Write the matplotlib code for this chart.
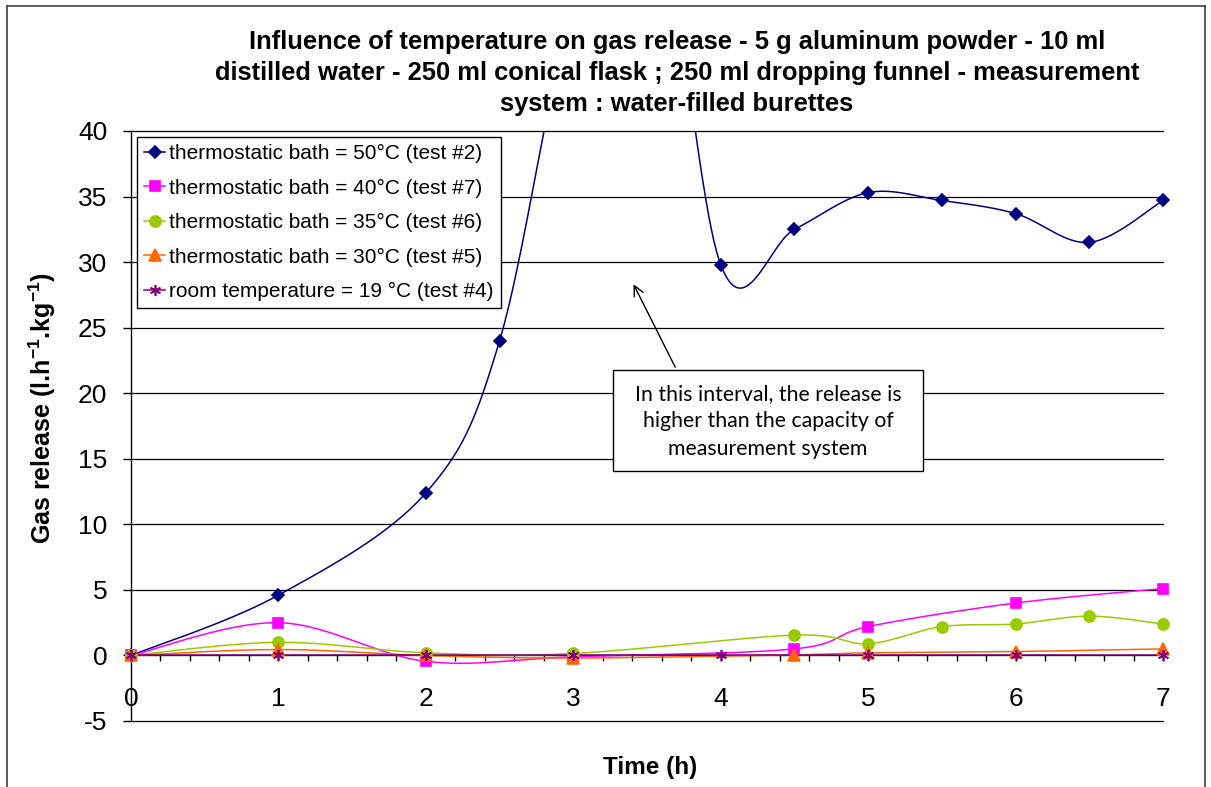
import numpy as np
import matplotlib
matplotlib.use('Agg')
import matplotlib.pyplot as plt
from matplotlib.lines import Line2D
from matplotlib.patches import Rectangle

plt.rcParams['font.family'] = ['Liberation Sans', 'DejaVu Sans']
plt.rcParams['mathtext.fontset'] = 'custom'
plt.rcParams['mathtext.bf'] = 'Liberation Sans:bold'
plt.rcParams['mathtext.rm'] = 'Liberation Sans'
plt.rcParams['axes.unicode_minus'] = False

# ---------- data ----------
x_50 = [0, 1, 2, 2.5, 3, 3.5, 4, 4.5, 5, 5.5, 6, 6.5, 7]
y_50 = [0, 4.6, 12.4, 24.0, 50, 62, 29.8, 32.5, 35.3, 34.7, 33.7, 31.5, 34.7]

x_40 = [0, 1, 2, 3, 4.5, 5, 6, 7]
y_40 = [0, 2.5, -0.45, -0.1, 0.5, 2.2, 4.0, 5.1]

x_35 = [0, 1, 2, 3, 4.5, 5, 5.5, 6, 6.5, 7]
y_35 = [0, 1.0, 0.2, 0.15, 1.55, 0.9, 2.2, 2.4, 3.0, 2.4]

x_30 = [0, 1, 2, 3, 4.5, 5, 6, 7]
y_30 = [0, 0.45, 0.0, -0.2, 0.05, 0.2, 0.3, 0.5]

x_19 = [0, 1, 2, 3, 4, 5, 6, 7]
y_19 = [0, 0, 0, 0, 0, 0, 0, 0]

labels = ['thermostatic bath = 50°C (test #2)',
          'thermostatic bath = 40°C (test #7)',
          'thermostatic bath = 35°C (test #6)',
          'thermostatic bath = 30°C (test #5)',
          'room temperature = 19 °C (test #4)']
colors = ['#000080', '#FF00FF', '#99CC00', '#FF6600', '#800080']
markers = ['D', 's', 'o', '^', (6, 2, 0)]
msizes = [6, 7.5, 8, 8, 8]


def smooth(x, y, n=40):
    # excel-like smoothed line: bezier through the points
    p = np.column_stack([x, y]).astype(float)
    out = []
    for i in range(len(p) - 1):
        p0 = p[max(i - 1, 0)]; p1 = p[i]; p2 = p[i + 1]; p3 = p[min(i + 2, len(p) - 1)]
        b1 = p1 + (p2 - p0) / 6
        b2 = p2 - (p3 - p1) / 6
        t = np.linspace(0, 1, n)[:, None]
        seg = (1 - t)**3 * p1 + 3 * (1 - t)**2 * t * b1 + 3 * (1 - t) * t**2 * b2 + t**3 * p2
        out.append(seg if i == 0 else seg[1:])
    s = np.vstack(out)
    return s[:, 0], s[:, 1]


fig = plt.figure(figsize=(12.11, 7.87), dpi=100)
ax = fig.add_axes([131/1211, 1-721/787, (1163-131)/1211, (721-131)/787])

series = [(x_50, y_50), (x_40, y_40), (x_35, y_35), (x_30, y_30), (x_19, y_19)]
handles = []
for (xs, ys), c, m, ms, lab in zip(series, colors, markers, msizes, labels):
    sx, sy = smooth(xs, ys)
    ax.plot(sx, sy, color=c, lw=1.1, zorder=3)
    xs = np.array(xs); ys = np.array(ys)
    vis = ys <= 40
    ax.plot(xs[vis], ys[vis], ls='none', marker=m, ms=ms, color=c, mec=c, mew=1.2,
            zorder=4, clip_on=False)
    handles.append(Line2D([], [], color=c, lw=1.1, marker=m, ms=ms, mec=c, mew=1.2))

ax.set_xlim(0, 7)
ax.set_ylim(-5, 40)
ax.set_yticks(np.arange(-5, 41, 5))
ax.set_xticks(np.arange(0, 8, 1))
ax.set_xticks(np.arange(0, 7.01, 0.2), minor=True)
for yv in np.arange(-5, 41, 5):
    ax.axhline(yv, color='black', lw=0.9, zorder=1, clip_on=False)

ax.spines['top'].set_visible(False)
ax.spines['right'].set_visible(False)
ax.spines['bottom'].set_position(('data', 0))
ax.spines['bottom'].set_zorder(2)
ax.spines['left'].set_linewidth(1.0)
ax.tick_params(axis='y', direction='out', length=6, width=1, labelsize=19, pad=11)
ax.tick_params(axis='x', which='both', direction='out', length=4, width=1,
               labelsize=19, pad=19)

ax.set_xlabel('Time (h)', fontsize=17.5, fontweight='bold')
ax.xaxis.set_label_coords(0.503, -0.06)
ax.set_ylabel('Gas release (l.h$^{\\mathbf{-1}}$.kg$^{\\mathbf{-1}}$)', fontsize=18,
              fontweight='bold')
ax.yaxis.set_label_coords(-0.071, 0.53)

leg = ax.legend(handles, labels, loc='upper left', bbox_to_anchor=(0.006, 0.99),
                fontsize=15, frameon=True, fancybox=False, edgecolor='black',
                framealpha=1, borderaxespad=0, labelspacing=0.74, handlelength=1.0,
                handletextpad=0.2, borderpad=0.35)
leg.get_frame().set_linewidth(1.0)
leg.set_zorder(10)

fig.text(0.559, 0.962,
         'Influence of temperature on gas release - 5 g aluminum powder - 10 ml\n'
         'distilled water - 250 ml conical flask ; 250 ml dropping funnel - measurement\n'
         'system : water-filled burettes',
         ha='center', va='top', fontsize=18.4, fontweight='bold', linespacing=1.36)

# annotation box with arrow
ax.add_patch(Rectangle((3.27, 14.05), 2.10, 7.71, facecolor='white', edgecolor='black',
                       lw=1.0, zorder=6))
ax.text(4.32, 17.85, 'In this interval, the release is\nhigher than the capacity of\nmeasurement system',
        ha='center', va='center', fontsize=15.3, family=['Lato', 'DejaVu Sans'],
        linespacing=1.45, zorder=7)
ax.annotate('', xy=(3.40, 28.5), xytext=(3.70, 21.8),
            arrowprops=dict(arrowstyle='->', color='black', lw=1.0, mutation_scale=18),
            zorder=6)

# chart area border
fig.add_artist(Line2D([7/1211, 7/1211], [0, 1-6/787], color='#404040', lw=1.2))
fig.add_artist(Line2D([7/1211, 1205/1211], [1-6/787, 1-6/787], color='#404040', lw=1.2))
fig.add_artist(Line2D([1205/1211, 1205/1211], [0, 1-6/787], color='#404040', lw=1.2))

fig.savefig('out.png', dpi=100)
